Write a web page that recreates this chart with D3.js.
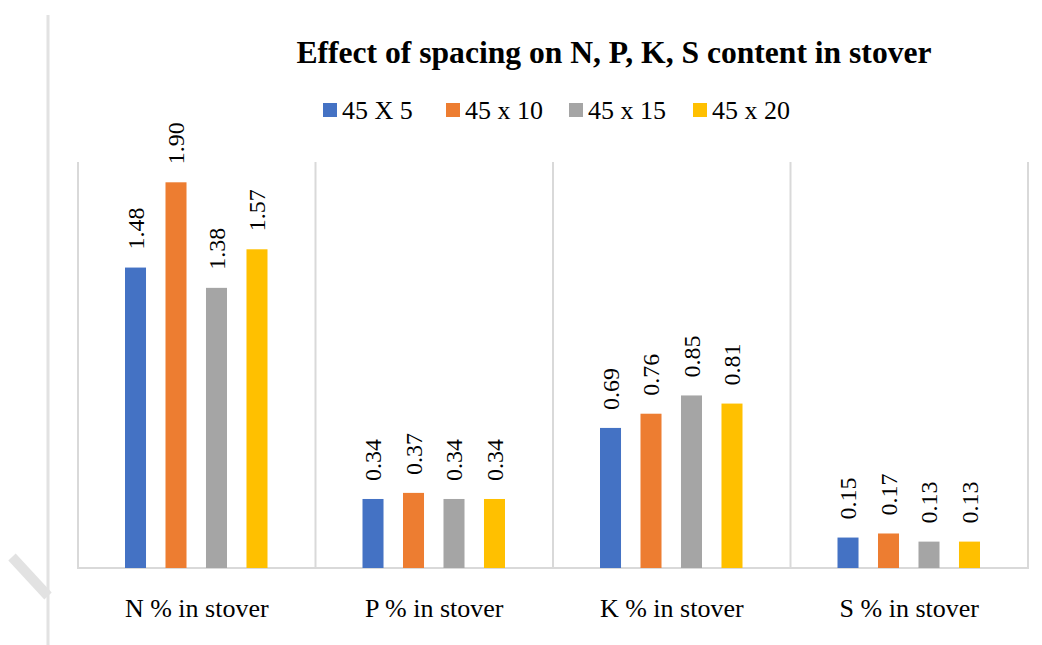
<!DOCTYPE html>
<html>
<head>
<meta charset="utf-8">
<script src="https://cdn.jsdelivr.net/npm/d3@7"></script>
<style>
  html, body { margin: 0; padding: 0; background: #fff; }
  svg { display: block; }
</style>
</head>
<body>
<svg id="chart" width="1042" height="645"></svg>
<script>
const title = "Effect of spacing on N, P, K, S content in stover";
const categories = ["N % in stover", "P % in stover", "K % in stover", "S % in stover"];
const seriesNames = ["45 X 5", "45 x 10", "45 x 15", "45 x 20"];
const colors = ["#4472C4", "#ED7D31", "#A5A5A5", "#FFC000"];
const s45x5  = [1.48, 0.34, 0.69, 0.15];
const s45x10 = [1.90, 0.37, 0.76, 0.17];
const s45x15 = [1.38, 0.34, 0.85, 0.13];
const s45x20 = [1.57, 0.34, 0.81, 0.13];
const seriesValues = [s45x5, s45x10, s45x15, s45x20];

const FONT = "'Liberation Serif', 'Times New Roman', serif";
const svg = d3.select("#chart");
const W = 1042, H = 645;
const plot = {left: 78, right: 1028, top: 162, bottom: 568};

// page decoration (left margin rule and diagonal stroke)
svg.append("line").attr("x1", 48).attr("x2", 48).attr("y1", 15).attr("y2", H)
  .attr("stroke", "#e2e2e2").attr("stroke-width", 3);
svg.append("line").attr("x1", 12).attr("y1", 557).attr("x2", 48).attr("y2", 596)
  .attr("stroke", "#e2e2e2").attr("stroke-width", 10);

const x0 = d3.scaleBand().domain(categories).range([plot.left, plot.right]).padding(0);
const x1 = d3.scaleBand().domain(seriesNames).range([47, 189.5]).paddingInner(0.481).paddingOuter(0);
const y = d3.scaleLinear().domain([0, 2]).range([plot.bottom, plot.top]);

// frame lines
const gridColor = "#d9d9d9";
const bounds = categories.map(c => x0(c)).concat([plot.right]);
svg.append("g").selectAll("line").data(bounds).join("line")
  .attr("x1", d => d).attr("x2", d => d)
  .attr("y1", plot.top).attr("y2", plot.bottom)
  .attr("stroke", gridColor).attr("stroke-width", 2);
svg.append("line").attr("x1", plot.left - 1).attr("x2", plot.right + 1)
  .attr("y1", plot.bottom).attr("y2", plot.bottom)
  .attr("stroke", gridColor).attr("stroke-width", 2);

// bars
const data = [];
categories.forEach((c, ci) => {
  seriesNames.forEach((s, si) => {
    data.push({cat: c, ser: s, si, v: seriesValues[si][ci]});
  });
});

svg.append("g").selectAll("rect").data(data).join("rect")
  .attr("x", d => x0(d.cat) + x1(d.ser))
  .attr("y", d => y(d.v))
  .attr("width", x1.bandwidth())
  .attr("height", d => y(0) - y(d.v))
  .attr("fill", d => colors[d.si]);

// data labels
svg.append("g").selectAll("text").data(data).join("text")
  .attr("transform", d => `translate(${x0(d.cat) + x1(d.ser) + x1.bandwidth()/2},${y(d.v) - 18}) rotate(-90)`)
  .attr("dy", "0.35em")
  .attr("text-anchor", "start")
  .style("font-family", FONT)
  .style("font-size", "24px")
  .attr("fill", "#000")
  .text(d => d.v.toFixed(2));

// category axis labels
const xAxis = d3.axisBottom(x0).tickSize(0).tickPadding(0);
const ax = svg.append("g").attr("transform", `translate(0,${plot.bottom})`).call(xAxis);
ax.select(".domain").remove();
ax.selectAll("text")
  .attr("y", 49).attr("dy", 0)
  .style("font-size", "26px")
  .style("font-family", FONT)
  .attr("fill", "#000");

// title
svg.append("text").attr("x", 614).attr("y", 63).attr("text-anchor", "middle")
  .style("font-family", FONT)
  .style("font-size", "31.6px").style("font-weight", "bold").attr("fill", "#000").text(title);

// legend
const legendX = [323, 446, 569, 693];
const lg = svg.append("g").selectAll("g").data(seriesNames).join("g")
  .attr("transform", (d, i) => `translate(${legendX[i]},103)`);
lg.append("rect").attr("width", 14).attr("height", 14).attr("fill", (d, i) => colors[i]);
lg.append("text").attr("x", 19).attr("y", 16)
  .style("font-family", FONT).style("font-size", "26px").attr("fill", "#000").text(d => d);
</script>
</body>
</html>
